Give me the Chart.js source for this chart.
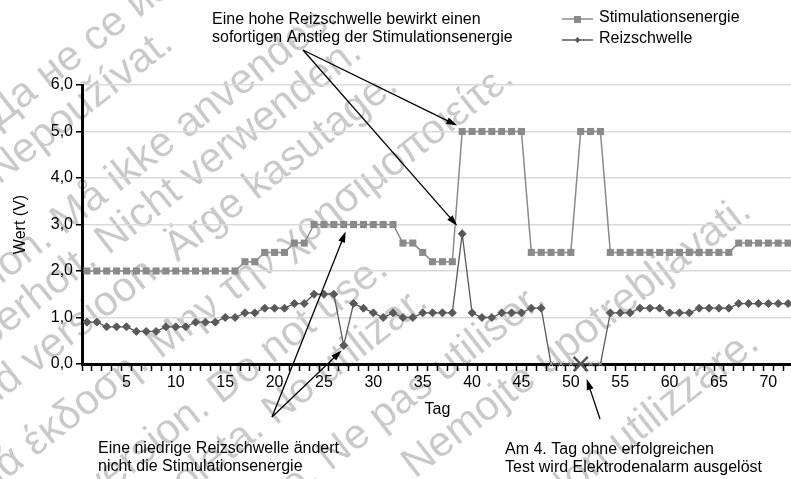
<!DOCTYPE html>
<html>
<head>
<meta charset="utf-8">
<script src="https://cdn.jsdelivr.net/npm/chart.js@4/dist/chart.umd.min.js"></script>
<style>
    html, body { margin: 0; padding: 0; background: #fff; overflow: hidden; }
    #wrap { width: 798px; height: 479px; }
</style>
</head>
<body>
<div id="wrap"><canvas id="chart" width="798" height="479"></canvas></div>
<script>
// Tag (day) categories
const days = [
    1, 2, 3, 4, 5, 6, 7, 8, 9, 10, 11, 12, 13, 14, 15, 16, 17, 18, 19, 20, 21, 22, 23, 24,
    25, 26, 27, 28, 29, 30, 31, 32, 33, 34, 35, 36, 37, 38, 39, 40, 41, 42, 43, 44, 45, 46, 47, 48,
    49, 50, 51, 52, 53, 54, 55, 56, 57, 58, 59, 60, 61, 62, 63, 64, 65, 66, 67, 68, 69, 70, 71, 72
];

// Stimulationsenergie (V)
const stimEnergy = [
    2.0, 2.0, 2.0, 2.0, 2.0, 2.0, 2.0, 2.0, 2.0, 2.0, 2.0, 2.0, 2.0, 2.0, 2.0, 2.0,
    2.2, 2.2, 2.4, 2.4, 2.4, 2.6, 2.6,
    3.0, 3.0, 3.0, 3.0, 3.0, 3.0, 3.0, 3.0, 3.0,
    2.6, 2.6, 2.4, 2.2, 2.2, 2.2,
    5.0, 5.0, 5.0, 5.0, 5.0, 5.0, 5.0,
    2.4, 2.4, 2.4, 2.4, 2.4,
    5.0, 5.0, 5.0,
    2.4, 2.4, 2.4, 2.4, 2.4, 2.4, 2.4, 2.4, 2.4, 2.4, 2.4, 2.4, 2.4,
    2.6, 2.6, 2.6, 2.6, 2.6, 2.6
];

// Reizschwelle (V), 0 = no successful test
const threshold = [
    0.9, 0.9, 0.8, 0.8, 0.8, 0.7, 0.7, 0.7, 0.8, 0.8, 0.8, 0.9, 0.9, 0.9, 1.0, 1.0,
    1.1, 1.1, 1.2, 1.2, 1.2, 1.3, 1.3, 1.5, 1.5, 1.5, 0.4, 1.3, 1.2, 1.1, 1.0, 1.1,
    1.0, 1.0, 1.1, 1.1, 1.1, 1.1, 2.8, 1.1, 1.0, 1.0, 1.1, 1.1, 1.1, 1.2, 1.2,
    0, 0, 0, 0, 0, 0,
    1.1, 1.1, 1.1, 1.2, 1.2, 1.2, 1.1, 1.1, 1.1, 1.2, 1.2, 1.2, 1.2,
    1.3, 1.3, 1.3, 1.3, 1.3, 1.3
];

const alarmDay = 51;
const yTicks = [0, 1, 2, 3, 4, 5, 6];

const FONT = "'Liberation Sans', Arial, sans-serif";
const stimColor = '#8a8a8a';
const threshColor = '#595959';

// annotations: text blocks and arrows pointing at data points
const notes = [
    { x: 212, y: 20, lines: ['Eine hohe Reizschwelle bewirkt einen', 'sofortigen Anstieg der Stimulationsenergie'] },
    { x: 98, y: 449, lines: ['Eine niedrige Reizschwelle ändert', 'nicht die Stimulationsenergie'] },
    { x: 505, y: 450, lines: ['Am 4. Tag ohne erfolgreichen', 'Test wird Elektrodenalarm ausgelöst'] }
];
const arrows = [
    { from: [303, 50], day: 39, value: 5.0, dx: -5, dy: -6 },
    { from: [303, 50], day: 39, value: 2.8, dx: -5, dy: -8 },
    { from: [272, 417], day: 27, value: 3.0, dx: 2, dy: 7 },
    { from: [272, 417], day: 27, value: 0.4, dx: -2, dy: 5 },
    { from: [600, 419], day: 51, value: 0, dx: 6, dy: 15 }
];

// watermark lines: [first part, second part, perpendicular offset, along-line start of second part]
const watermark = [
    ['Остаряла версия.', 'Да не се използва.', 100, -80],
    ['Zastaralá verze.', 'Nepoužívat.', 145, -115],
    ['Forældet version.', 'Må ikke anvendes.', 225, -95],
    ['Version überholt.', 'Nicht verwenden.', 268, -72],
    ['Aegunud versioon.', 'Ärge kasutage.', 316, -22],
    ['Παλιά έκδοση.', 'Μην την χρησιμοποιείτε.', 382, -95],
    ['Outdated version.', 'Do not use.', 455, -75],
    ['Versión obsoleta.', 'No utilizar.', 505, -45],
    ['Version obsolète.', 'Ne pas utiliser.', 575, -30],
    ['Zastarjela verzija.', 'Nemojte upotrebljavati.', 633, 32],
    ['Versione obsoleta.', 'Non utilizzare.', 742, 120]
];

const watermarkPlugin = {
    id: 'watermark',
    beforeDraw(chart) {
        const ctx = chart.ctx;
        ctx.save();
        ctx.rotate(-38 * Math.PI / 180);
        ctx.font = '42px ' + FONT;
        ctx.fillStyle = 'rgba(0,0,0,0.21)';
        ctx.textBaseline = 'alphabetic';
        watermark.forEach(([a, b, d, t]) => {
            ctx.textAlign = 'right';
            ctx.fillText(a + ' ', t, d);
            ctx.textAlign = 'left';
            ctx.fillText(b, t, d);
        });
        ctx.restore();
    }
};

function drawArrow(ctx, x1, y1, x2, y2) {
    const ang = Math.atan2(y2 - y1, x2 - x1);
    const len = 11, half = 3.5;
    ctx.beginPath();
    ctx.moveTo(x1, y1);
    ctx.lineTo(x2 - Math.cos(ang) * len * 0.8, y2 - Math.sin(ang) * len * 0.8);
    ctx.stroke();
    ctx.beginPath();
    ctx.moveTo(x2, y2);
    ctx.lineTo(x2 - Math.cos(ang) * len - Math.sin(ang) * half, y2 - Math.sin(ang) * len + Math.cos(ang) * half);
    ctx.lineTo(x2 - Math.cos(ang) * len + Math.sin(ang) * half, y2 - Math.sin(ang) * len - Math.cos(ang) * half);
    ctx.closePath();
    ctx.fill();
}

const notesPlugin = {
    id: 'notes',
    afterDraw(chart) {
        const ctx = chart.ctx;
        const xs = chart.scales.x, ys = chart.scales.y;
        ctx.save();

        // legend
        ctx.font = '16px ' + FONT;
        ctx.textBaseline = 'middle';
        ctx.textAlign = 'left';
        ctx.lineWidth = 1.5;
        ctx.strokeStyle = stimColor;
        ctx.beginPath(); ctx.moveTo(562, 19); ctx.lineTo(593, 19); ctx.stroke();
        ctx.fillStyle = stimColor;
        ctx.fillRect(574, 16, 7, 7);
        ctx.strokeStyle = threshColor;
        ctx.beginPath(); ctx.moveTo(562, 40); ctx.lineTo(593, 40); ctx.stroke();
        ctx.fillStyle = threshColor;
        ctx.beginPath();
        ctx.moveTo(577.5, 37); ctx.lineTo(580.5, 40); ctx.lineTo(577.5, 43); ctx.lineTo(574.5, 40);
        ctx.closePath(); ctx.fill();
        ctx.fillStyle = '#000';
        ctx.fillText('Stimulationsenergie', 599, 18);
        ctx.fillText('Reizschwelle', 599, 39);

        // text notes
        notes.forEach(n => {
            n.lines.forEach((line, i) => ctx.fillText(line, n.x, n.y + i * 18));
        });

        // arrows
        ctx.strokeStyle = '#000';
        ctx.fillStyle = '#000';
        ctx.lineWidth = 1.3;
        arrows.forEach(a => {
            const tx = xs.getPixelForValue(days.indexOf(a.day)) + a.dx;
            const ty = ys.getPixelForValue(a.value) + a.dy;
            drawArrow(ctx, a.from[0], a.from[1], tx, ty);
        });
        ctx.restore();
    }
};

const threshStyles = threshold.map((v, i) => {
    if (days[i] === alarmDay) return { style: 'crossRot', r: 10, color: '#555', w: 2.5 };
    if (v === 0) return { style: 'crossRot', r: 4, color: '#a0a0a0', w: 1 };
    return { style: 'rectRot', r: 4, color: threshColor, w: 1 };
});

const ctx = document.getElementById('chart').getContext('2d');
new Chart(ctx, {
    type: 'line',
    data: {
        labels: days,
        datasets: [{
            label: 'Stimulationsenergie',
            data: stimEnergy,
            borderColor: stimColor,
            borderWidth: 1.5,
            backgroundColor: stimColor,
            pointStyle: 'rect',
            pointRadius: 5,
            pointBorderWidth: 0,
            pointBackgroundColor: stimColor,
            tension: 0,
            clip: false
        }, {
            label: 'Reizschwelle',
            data: threshold,
            borderColor: threshColor,
            borderWidth: 1.3,
            backgroundColor: threshColor,
            pointStyle: threshStyles.map(s => s.style),
            pointRadius: threshStyles.map(s => s.r),
            pointBorderColor: threshStyles.map(s => s.color),
            pointBackgroundColor: threshStyles.map(s => s.color),
            pointBorderWidth: threshStyles.map(s => s.w),
            tension: 0,
            clip: false
        }]
    },
    options: {
        responsive: false,
        animation: false,
        devicePixelRatio: 1,
        layout: { padding: { top: 85, right: 1.5, left: 0, bottom: 0 } },
        plugins: {
            legend: { display: false },
            tooltip: { enabled: false }
        },
        scales: {
            x: {
                type: 'category',
                offset: true,
                afterFit: (scale) => { scale.height = 115; },
                grid: {
                    offset: true,
                    drawOnChartArea: false,
                    drawTicks: true,
                    tickLength: 7,
                    tickColor: '#000',
                    tickWidth: 1.5
                },
                border: { color: '#000', width: 3 },
                ticks: {
                    autoSkip: false,
                    maxRotation: 0,
                    padding: 2,
                    color: '#000',
                    font: { family: FONT, size: 16 },
                    callback: (v, i) => (days[i] % 5 === 0 ? String(days[i]) : '')
                },
                title: {
                    display: true,
                    text: 'Tag',
                    color: '#000',
                    font: { family: FONT, size: 16 },
                    padding: { top: 0, bottom: 60 }
                }
            },
            y: {
                min: 0,
                max: 6,
                afterFit: (scale) => { scale.width = 82; },
                afterBuildTicks: (scale) => { scale.ticks = yTicks.map(v => ({ value: v })); },
                grid: {
                    color: '#dadada',
                    lineWidth: 1.5,
                    tickLength: 6,
                    tickColor: '#000',
                    tickWidth: 1.5
                },
                border: { color: '#000', width: 3 },
                ticks: {
                    padding: 3,
                    color: '#000',
                    font: { family: FONT, size: 16 },
                    callback: (v) => v.toFixed(1).replace('.', ',')
                },
                title: {
                    display: true,
                    text: 'Wert (V)',
                    color: '#000',
                    font: { family: FONT, size: 16 },
                    padding: { top: 11, bottom: 0 }
                }
            }
        }
    },
    plugins: [watermarkPlugin, notesPlugin]
});
</script>
</body>
</html>
